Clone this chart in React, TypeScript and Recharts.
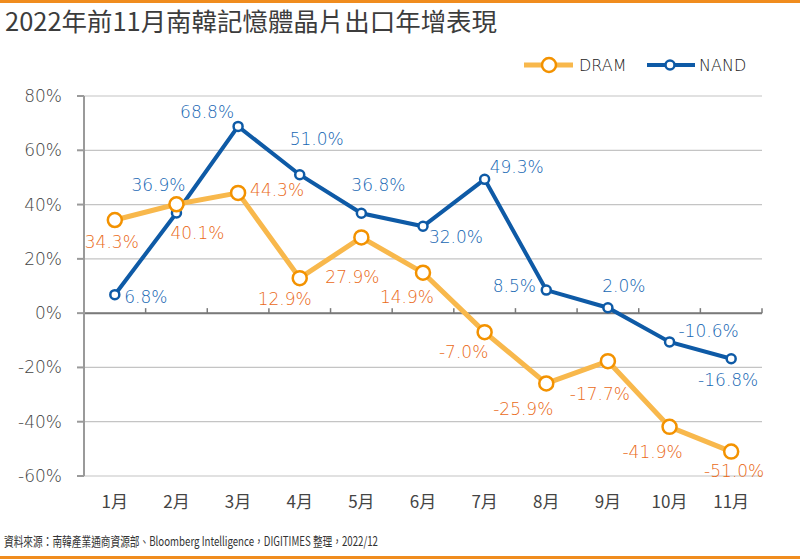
import React from 'react';
import {
  LineChart,
  Line,
  XAxis,
  YAxis,
  CartesianGrid,
  ReferenceLine,
  LabelList,
  Legend,
} from 'recharts';

const months = ['1月', '2月', '3月', '4月', '5月', '6月', '7月', '8月', '9月', '10月', '11月'];
const dramValues = [34.3, 40.1, 44.3, 12.9, 27.9, 14.9, -7.0, -25.9, -17.7, -41.9, -51.0];
const nandValues = [6.8, 36.9, 68.8, 51.0, 36.8, 32.0, 49.3, 8.5, 2.0, -10.6, -16.8];
const yTicks = [-60, -40, -20, 0, 20, 40, 60, 80];

// label placement offsets relative to each point (dx, dy)
const dramLabelOffsets: [number, number][] = [
  [-3, 22], [21, 29], [39, -3], [-15, 21], [-9, 40], [-16, 24],
  [-21, 20], [-23, 26], [-8, 33], [-17, 25], [3, 19],
];
const nandLabelOffsets: [number, number][] = [
  [31, 2], [-18, -28], [-31, -14], [17, -36], [17, -28], [33, 11],
  [32, -12], [-32, -4], [16, -22], [39, -11], [-3, 21],
];

const TITLE = '2022年前11月南韓記憶體晶片出口年增表現';
const SOURCE = '資料來源：南韓產業通商資源部、Bloomberg Intelligence，DIGITIMES 整理，2022/12';

const DRAM_LINE = '#F8B84C';
const DRAM_DOT = '#F39200';
const DRAM_TEXT = '#EA6A18';
const NAND_LINE = '#0E5AA6';
const NAND_TEXT = '#1767B3';
const ACCENT = '#F08C1E';

const NUM_FONT = '"DejaVu Sans", sans-serif';
const CJK_FONT = '"Noto Sans CJK TC", "Noto Sans", sans-serif';

const data = months.map((m, i) => ({ month: m, DRAM: dramValues[i], NAND: nandValues[i] }));

const makeLabel = (offsets: [number, number][], color: string) => (props: any) => {
  const { x, y, value, index } = props;
  if (x == null || y == null || value == null) return null;
  const [dx, dy] = offsets[index] || [0, 0];
  return (
    <text
      x={x + dx}
      y={y + dy}
      textAnchor="middle"
      dominantBaseline="central"
      fill={color}
      fontSize={17}
      fontWeight={300}
      fontFamily={NUM_FONT}
    >
      {`${Number(value).toFixed(1)}%`}
    </text>
  );
};

const ZeroAxis = (props: any) => {
  const { x1, y1, x2 } = props;
  const n = months.length;
  const step = (x2 - x1) / n;
  const ticks = [];
  for (let i = 0; i <= n; i++) {
    const tx = x1 + step * i;
    ticks.push(<line key={i} x1={tx} x2={tx} y1={y1} y2={y1 - 5} stroke="#7a7a7a" strokeWidth={1.5} />);
  }
  return (
    <g>
      <line x1={x1} x2={x2} y1={y1} y2={y1} stroke="#7a7a7a" strokeWidth={2} />
      {ticks}
    </g>
  );
};

const XTick = (props: any) => {
  const { x, y, payload } = props;
  return (
    <text
      x={x}
      y={y + 16}
      textAnchor="middle"
      dominantBaseline="central"
      fill="#444"
      fontSize={17}
      fontFamily={CJK_FONT}
    >
      {payload.value}
    </text>
  );
};

const LegendContent = () => (
  <svg width={240} height={30}>
    <line x1={4} x2={53} y1={15} y2={15} stroke={DRAM_LINE} strokeWidth={5} />
    <circle cx={29} cy={15} r={7} fill="#fff" stroke={DRAM_DOT} strokeWidth={2.5} />
    <text x={59} y={15} dominantBaseline="central" fontSize={16} fontWeight={300} fill="#222" fontFamily={NUM_FONT}>
      DRAM
    </text>
    <line x1={127} x2={175} y1={15} y2={15} stroke={NAND_LINE} strokeWidth={4} />
    <circle cx={150} cy={15} r={4.5} fill="#fff" stroke={NAND_LINE} strokeWidth={2.5} />
    <text x={179} y={15} dominantBaseline="central" fontSize={16} fontWeight={300} fill="#222" fontFamily={NUM_FONT}>
      NAND
    </text>
  </svg>
);

export default function App() {
  return (
    <div style={{ position: 'absolute', left: 0, top: 0, width: 800, height: 559, background: '#fff', overflow: 'hidden' }}>
      <div style={{ position: 'absolute', left: 0, top: 0 }}>
        <LineChart width={800} height={559} data={data} margin={{ top: 96, right: 38, left: 0, bottom: 43 }}>
          <CartesianGrid vertical={false} stroke="#c4c4c4" strokeWidth={1.2} />
          <XAxis
            dataKey="month"
            scale="band"
            axisLine={false}
            tickLine={false}
            height={40}
            tick={<XTick />}
            interval={0}
          />
          <YAxis
            width={84}
            domain={[-60, 80]}
            ticks={yTicks}
            type="number"
            tickFormatter={(v: number) => `${v}%`}
            axisLine={{ stroke: '#9a9a9a', strokeWidth: 2 }}
            tickLine={{ stroke: '#9a9a9a', strokeWidth: 2 }}
            tickSize={7}
            tickMargin={15}
            tick={{ fill: '#444', fontSize: 17, fontFamily: NUM_FONT, fontWeight: 300 }}
            interval={0}
          />
          <ReferenceLine y={0} shape={(p: any) => <ZeroAxis {...p} />} />
          <Legend
            layout="horizontal"
            verticalAlign="middle"
            align="center"
            content={<LegendContent />}
            wrapperStyle={{ position: 'absolute', top: 50, left: 520, width: 240, height: 30 }}
          />
          <Line
            type="linear"
            dataKey="NAND"
            stroke={NAND_LINE}
            strokeWidth={4}
            dot={{ r: 4.5, fill: '#fff', stroke: NAND_LINE, strokeWidth: 2.5 }}
            activeDot={false}
            isAnimationActive={false}
          >
            <LabelList dataKey="NAND" content={makeLabel(nandLabelOffsets, NAND_TEXT)} />
          </Line>
          <Line
            type="linear"
            dataKey="DRAM"
            stroke={DRAM_LINE}
            strokeWidth={5}
            dot={{ r: 7, fill: '#fff', stroke: DRAM_DOT, strokeWidth: 2.5 }}
            activeDot={false}
            isAnimationActive={false}
          >
            <LabelList dataKey="DRAM" content={makeLabel(dramLabelOffsets, DRAM_TEXT)} />
          </Line>
        </LineChart>
      </div>
      <svg
        width={800}
        height={559}
        style={{ position: 'absolute', left: 0, top: 0, pointerEvents: 'none' }}
      >
        <rect x={0} y={0} width={800} height={3} fill={ACCENT} />
        <text
          x={5}
          y={31}
          fontSize={25}
          fill="#3c3c3c"
          fontFamily={CJK_FONT}
          textLength={492}
          lengthAdjust="spacingAndGlyphs"
        >
          {TITLE}
        </text>
        <text
          x={4}
          y={546}
          fontSize={13}
          fill="#333"
          fontFamily={CJK_FONT}
          textLength={374}
          lengthAdjust="spacingAndGlyphs"
        >
          {SOURCE}
        </text>
        <rect x={0} y={556} width={800} height={3} fill={ACCENT} />
      </svg>
    </div>
  );
}
